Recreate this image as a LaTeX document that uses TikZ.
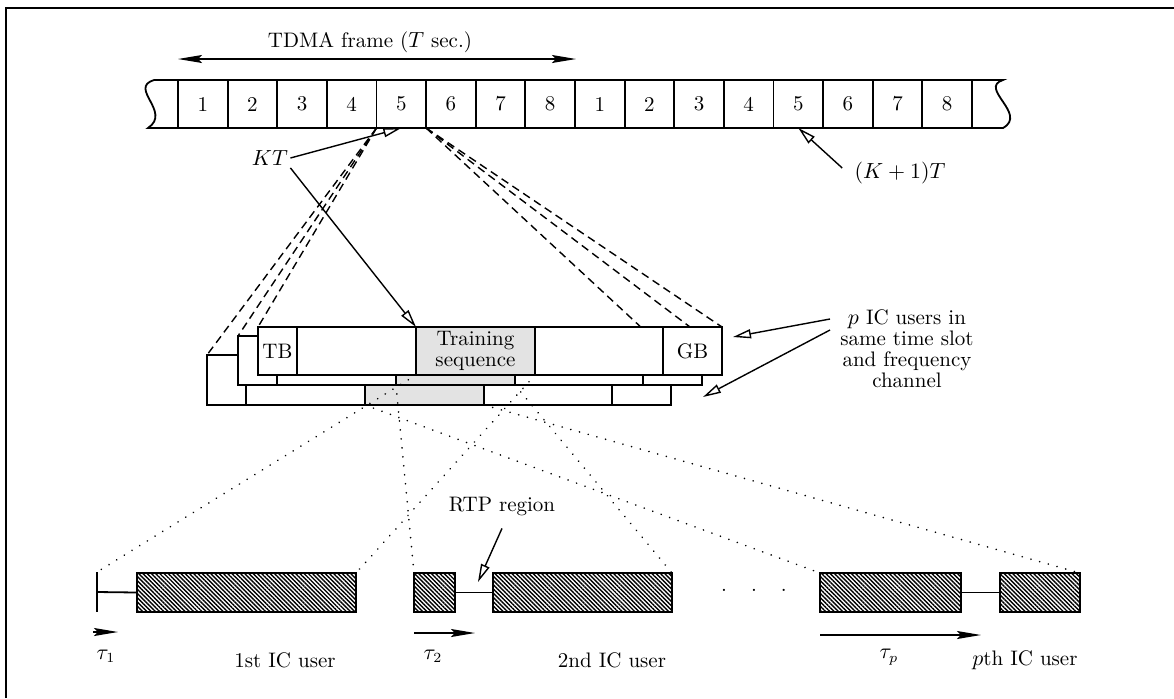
\documentclass[tikz,border=0pt]{standalone}
\usepackage{amsmath}
\usetikzlibrary{arrows.meta, positioning, patterns.meta}
\pgfdeclarelayer{background}
\pgfsetlayers{background,main}

\begin{document}
\begin{tikzpicture}[
    x=0.5pt, y=-0.5pt,
    font=\fontsize{10.5}{10.5}\selectfont,
    slot/.style={
        rectangle, draw, line width=0.9pt, anchor=north west,
        minimum width=24.81pt, minimum height=24pt,
        inner sep=0pt, outer sep=0pt
    },
    burst/.style={
        rectangle, draw, line width=0.9pt, anchor=north west,
        fill=white, inner sep=0pt, outer sep=0pt
    },
    train/.style={burst, fill=gray!22},
    user/.style={
        rectangle, draw, line width=1.1pt, anchor=north west,
        minimum height=19.5pt, inner sep=0pt, outer sep=0pt,
        pattern={Lines[angle=-45, distance=1.5pt, line width=0.7pt]}
    },
    openarr/.style={-{Triangle[open, length=9pt, width=4.5pt]}, line width=0.7pt},
    tauarr/.style={-{Stealth[length=12pt, width=4pt, inset=2pt]}, line width=0.8pt},
    dashline/.style={line width=0.7pt, dash pattern=on 4pt off 2.5pt},
    dotline/.style={line width=0.9pt, dash pattern=on 0.01pt off 4.5pt, line cap=round},
]
\useasboundingbox (0,0) rectangle (1174,698);
\draw[line width=0.8pt] (6,698) -- (6,8) -- (1174,8);

% TDMA frames
\coordinate (lt) at (154,80);
\coordinate (lb) at (148,128);
\coordinate (rt) at (1003,80);
\coordinate (rb) at (1003,128);
\draw[line width=0.9pt] (lt) -- (rt) .. controls (978,88) and (1028,114) .. (rb)
    -- (lb) .. controls (172,112) and (128,88) .. (lt);
\foreach \k in {1,...,16}{
    \pgfmathtruncatemacro{\num}{mod(\k-1,8)+1}
    \node[slot] (slot\k) at ({178+49.625*(\k-1)},80) {\num};
}
\coordinate (frameL) at (178,59);
\coordinate (frameR) at (576,59);
\draw[{Stealth[length=12pt, width=4pt, inset=2pt]}-{Stealth[length=12pt, width=4pt, inset=2pt]}, line width=0.7pt]
    (frameL) -- (frameR);
\node (tdma) at (370,42) {TDMA frame ($T$ sec.)};

% bursts of the p users
\foreach \f/\x/\y/\h in {c/207/355/25, b/238/336/24.5, a/258/327/24}{
    \node[burst, minimum width=19.5pt, minimum height=\h pt] (tb\f) at (\x,\y) {};
    \node[burst, minimum width=59.5pt, minimum height=\h pt] (da\f) at (tb\f.north east) {};
    \node[train, minimum width=59.5pt, minimum height=\h pt] (ts\f) at (da\f.north east) {};
    \node[burst, minimum width=64pt, minimum height=\h pt] (db\f) at (ts\f.north east) {};
    \node[burst, minimum width=29.5pt, minimum height=\h pt] (gb\f) at (db\f.north east) {};
}
\node (tbtxt) at (tba.center) {TB};
\node[align=center] (tstxt) at (tsa.center) {Training\\sequence};
\node (gbtxt) at (gba.center) {GB};

\begin{pgfonlayer}{background}
\foreach \f in {a,b,c}{
    \draw[dashline] (slot5.south west) -- (tb\f.north west);
    \draw[dashline] (slot5.south east) -- (gb\f.north east);
}
\end{pgfonlayer}

% time marks
\node[inner sep=1pt] (kt) at (270,158) {$KT$};
\draw[openarr] (kt.east) -- (slot5.south);
\draw[openarr] (kt.south east) -- (tsa.north west);
\node[inner sep=2pt] (kpt) at (900,173) {$(K+1)T$};
\draw[openarr] ([xshift=-4pt, yshift=2.5pt]kpt.west) -- (slot13.south);

\node[align=center] (pusers) at (907,349)
    {$p$ IC users in\\same time slot\\and frequency\\channel};
\coordinate (pu1tail) at (830,319);
\coordinate (pu1tip) at (733,337);
\coordinate (pu2tail) at (830,330);
\coordinate (pu2tip) at (703,397);
\draw[openarr] (pu1tail) -- (pu1tip);
\draw[openarr] (pu2tail) -- (pu2tip);

% received training sequences
\coordinate (tick1top) at (97,572);
\coordinate (tick1bot) at (97,612);
\coordinate (tick1mid) at (97,592);
\node[user, minimum width=109.5pt] (u1b) at (137,573) {};
\draw[line width=0.9pt] (tick1top) -- (tick1bot);
\draw[line width=0.9pt] (tick1mid) -- (u1b.west);
\node[user, minimum width=20.5pt] (u2a) at (414,573) {};
\node[user, minimum width=89.5pt] (u2b) at (493,573) {};
\draw[line width=0.9pt] (u2a.east) -- (u2b.west);
\node[user, minimum width=70.5pt] (upa) at (820,573) {};
\node[user, minimum width=40pt] (upb) at (1000,573) {};
\draw[line width=0.9pt] (upa.east) -- (upb.west);
\node (dots) at (754,590) {.\hspace{12pt}.\hspace{12pt}.};

\draw[dotline] (tsa.south west) -- (tick1top);
\draw[dotline] (tsa.south east) -- (u1b.north east);
\draw[dotline] (tsb.south west) -- (u2a.north west);
\draw[dotline] (tsb.south east) -- (u2b.north east);
\draw[dotline] (tsc.south west) -- (upa.north west);
\draw[dotline] (tsc.south east) -- (upb.north east);

\node (rtp) at (502,506) {RTP region};
\coordinate (rtptip) at (478,582);
\draw[openarr] ([yshift=-3pt]rtp.south) -- (rtptip);

% delays
\coordinate (t1s) at (93,632);
\coordinate (t1e) at (118,632);
\coordinate (t2s) at (414,633);
\coordinate (t2e) at (475,633);
\coordinate (tps) at (820,635);
\coordinate (tpe) at (981,635);
\draw[tauarr] (t1s) -- (t1e);
\draw[tauarr] (t2s) -- (t2e);
\draw[tauarr] (tps) -- (tpe);
\node (tau1) at (106,656) {$\tau_1$};
\node (user1) at (285,660) {1st IC user};
\node (tau2) at (433,656) {$\tau_2$};
\node (user2) at (612,660) {2nd IC user};
\node (taup) at (889,657) {$\tau_p$};
\node (userp) at (1025,660) {$p$th IC user};
\end{tikzpicture}
\end{document}
